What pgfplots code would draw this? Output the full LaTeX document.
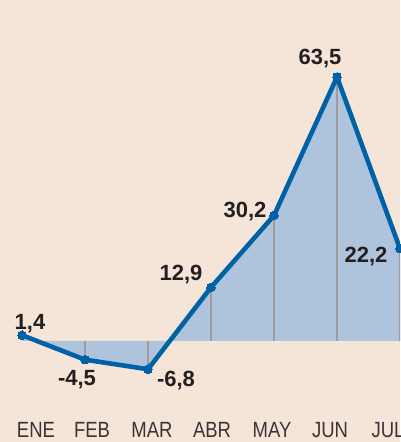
\documentclass[border=0pt]{standalone}
\usepackage{pgfplots}
\pgfplotsset{compat=1.18}
\usepackage{fontspec}
\setmainfont{Liberation Sans}
\newfontfamily\tickfont[FakeStretch=0.84]{Liberation Sans}
\definecolor{bg}{HTML}{F5E4D8}
\definecolor{areafill}{HTML}{AEC3DC}
\definecolor{linec}{HTML}{0062A6}
\definecolor{gridc}{HTML}{A09A9A}
\definecolor{txt}{HTML}{231F20}
\tikzset{
  datalab/.style={font=\bfseries\fontsize{22}{22}\selectfont, text=txt, inner sep=0pt},
  ticklab/.style={font=\tickfont\fontsize{22}{22}\selectfont, text=txt!90, anchor=base, inner sep=0pt},
}
\begin{document}
\begin{tikzpicture}[x=1pt,y=1pt]
\fill[bg] (0,0) rectangle (400,442);
\useasboundingbox (0,0) rectangle (400,442);
\begin{axis}[at={(0,0)}, anchor=south west, scale only axis,
  width=400pt, height=442pt,
  xmin=-0.349206, xmax=6.0, ymin=-24.30, ymax=82.03,
  axis line style={draw=none}, ticks=none,
]
\addplot[fill=areafill, draw=none] coordinates {(0,0) (0,1.4) (1,-4.5) (2,-6.8) (3,12.9) (4,30.2) (5,63.5) (6,22.2) (6,0)} -- cycle;
\addplot[ycomb, draw=gridc, line width=1.2pt] coordinates {(1,-4.5) (2,-6.8) (3,12.9) (4,30.2) (5,63.5) (6,22.2)};
\addplot[linec, line width=4.6pt, line join=round, mark=*, mark size=4.3pt, mark options={fill=linec, draw=linec, line width=0pt}] coordinates {(0,1.4) (1,-4.5) (2,-6.8) (3,12.9) (4,30.2) (5,63.5) (6,22.2)};
\node[datalab] at (axis cs:0,1.4) [xshift=8pt, yshift=12pt] {1,4};
\node[datalab] at (axis cs:1,-4.5) [xshift=-8pt, yshift=-20pt] {-4,5};
\node[datalab] at (axis cs:2,-6.8) [xshift=28pt, yshift=-11pt] {-6,8};
\node[datalab] at (axis cs:3,12.9) [xshift=-30pt, yshift=13pt] {12,9};
\node[datalab] at (axis cs:4,30.2) [xshift=-29pt, yshift=4pt] {30,2};
\node[datalab] at (axis cs:5,63.5) [xshift=-17pt, yshift=18pt] {63,5};
\node[datalab] at (axis cs:6,22.2) [xshift=-34pt, yshift=-8pt] {22,2};
\node[ticklab] at (axis cs:0.222,-23.33) {ENE};
\node[ticklab] at (axis cs:1.111,-23.33) {FEB};
\node[ticklab] at (axis cs:2.063,-23.33) {MAR};
\node[ticklab] at (axis cs:3.016,-23.33) {ABR};
\node[ticklab] at (axis cs:3.968,-23.33) {MAY};
\node[ticklab] at (axis cs:4.889,-23.33) {JUN};
\node[ticklab] at (axis cs:5.810,-23.33) {JUL};
\end{axis}
\end{tikzpicture}
\end{document}
